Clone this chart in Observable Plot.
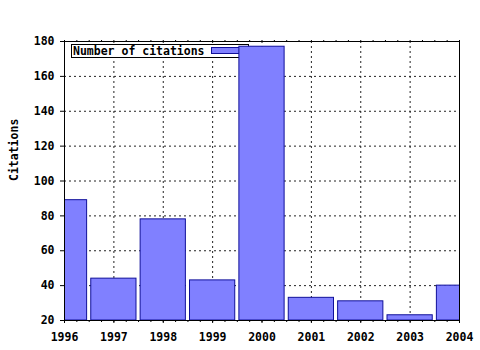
<!DOCTYPE html>
<html>
<head>
<meta charset="utf-8">
<script src="https://cdn.jsdelivr.net/npm/d3@7"></script>
<script src="https://cdn.jsdelivr.net/npm/@observablehq/plot@0.6"></script>
<style>
  html, body { margin: 0; padding: 0; background: white; }
</style>
</head>
<body>
<div id="chart"></div>
<script>
const years = [1996, 1997, 1998, 1999, 2000, 2001, 2002, 2003, 2004];
const citations = [89, 44, 78, 43, 177, 33, 31, 23, 40];
const yTicks = [20, 40, 60, 80, 100, 120, 140, 160, 180];
const minorXTicks = [1996, 1996.25, 1996.5, 1996.75, 1997, 1997.25, 1997.5, 1997.75,
  1998, 1998.25, 1998.5, 1998.75, 1999, 1999.25, 1999.5, 1999.75,
  2000, 2000.25, 2000.5, 2000.75, 2001, 2001.25, 2001.5, 2001.75,
  2002, 2002.25, 2002.5, 2002.75, 2003, 2003.25, 2003.5, 2003.75, 2004];
const seriesLabel = "Number of citations";
const yLabel = "Citations";
const yMin = 20, yMax = 180;

const data = years.map((year, i) => ({year, value: citations[i]}));

const fillColor = "#8080ff";
const strokeColor = "#10109a";
const font = "'DejaVu Sans Mono', monospace";
const halfWidth = 0.458;

function legend(index, scales, values, dimensions) {
  const g = d3.create("svg:g");
  const x0 = dimensions.marginLeft + 7;
  const y0 = dimensions.marginTop + 3;
  g.append("rect")
    .attr("x", x0 + 0.5).attr("y", y0 + 0.5)
    .attr("width", 177).attr("height", 13)
    .attr("fill", "white").attr("stroke", "black");
  g.append("text")
    .attr("x", x0 + 2).attr("y", y0 + 11)
    .attr("text-anchor", "start")
    .attr("fill", "black")
    .text(seriesLabel);
  g.append("rect")
    .attr("x", x0 + 140.5).attr("y", y0 + 3.5)
    .attr("width", 36).attr("height", 6)
    .attr("fill", fillColor).attr("stroke", strokeColor);
  return g.node();
}

const noLabel = () => "";

const plot = Plot.plot({
  width: 480,
  height: 350,
  marginLeft: 64,
  marginRight: 21,
  marginTop: 41,
  marginBottom: 30,
  style: {fontFamily: font, fontSize: "11.5px", fontWeight: "bold", background: "white", color: "black"},
  x: {domain: [1996, 2004], axis: null},
  y: {domain: [yMin, yMax], axis: null},
  marks: [
    Plot.ruleY(yTicks, {stroke: "#222", strokeDasharray: "2,3", strokeWidth: 1}),
    Plot.ruleX(years, {stroke: "#222", strokeDasharray: "2,3", strokeWidth: 1}),
    legend,
    Plot.rect(data, {
      x1: d => d.year - halfWidth,
      x2: d => d.year + halfWidth,
      y1: yMin,
      y2: "value",
      fill: fillColor,
      stroke: strokeColor,
      strokeWidth: 1,
      clip: true
    }),
    Plot.frame({stroke: "black"}),
    Plot.axisY(yTicks, {anchor: "left", tickSize: 4, tickPadding: 6, label: null, fill: "black", stroke: "black"}),
    Plot.axisX(minorXTicks, {anchor: "bottom", tickSize: 2, tickFormat: noLabel, label: null, stroke: "black"}),
    Plot.axisX(years, {anchor: "bottom", tickSize: 3, tickPadding: 9, tickFormat: d => String(d), label: null, fill: "black", stroke: "black"}),
    Plot.axisX(minorXTicks, {anchor: "top", tickSize: 2, tickFormat: noLabel, label: null, stroke: "black"}),
    Plot.text([yLabel], {frameAnchor: "left", dx: -50, rotate: -90, fill: "black", fontSize: 11.5, fontWeight: "bold"})
  ]
});

document.getElementById("chart").appendChild(plot);
</script>
</body>
</html>
